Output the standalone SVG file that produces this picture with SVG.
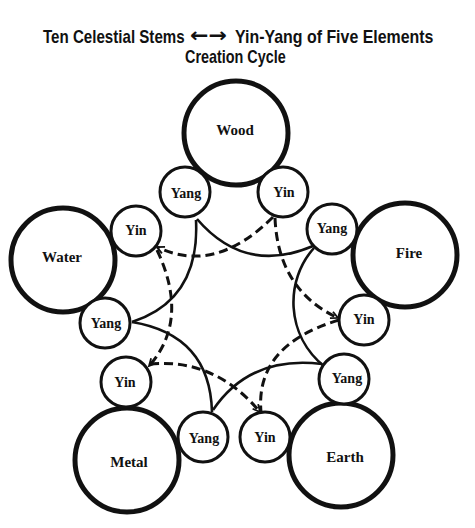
<svg xmlns="http://www.w3.org/2000/svg" width="475" height="528" viewBox="0 0 475 528">
<style>
.title{font-family:"Liberation Sans",Arial,sans-serif;font-weight:bold;font-size:18px;fill:#111}
.arr{font-family:"DejaVu Sans",sans-serif;font-weight:bold;font-size:20px;fill:#111}
.big{fill:#fff;stroke:#111;stroke-width:5}
.small{fill:#fff;stroke:#111;stroke-width:3}
.bl{font-family:"Liberation Serif","Times New Roman",serif;font-weight:bold;font-size:15px;fill:#111;text-anchor:middle}
.sl{font-family:"Liberation Serif","Times New Roman",serif;font-weight:bold;font-size:14px;fill:#111;text-anchor:middle}
.solid{fill:none;stroke:#111;stroke-width:2.6}
.dash{fill:none;stroke:#111;stroke-width:3;stroke-dasharray:9 5}
</style>
<defs>
<marker id="ah" viewBox="0 0 10 10" refX="9" refY="5" markerWidth="9" markerHeight="9" markerUnits="userSpaceOnUse" orient="auto">
<path d="M1,1 L9,5 L1,9" fill="none" stroke="#111" stroke-width="2"/>
</marker>
</defs>
<rect width="475" height="528" fill="#fff"/>
<g id="title">
<text class="title" transform="translate(43 43) scale(0.84 1)">Ten Celestial Stems</text>
<text class="arr" transform="translate(190 42) scale(1.1 1)">←→</text>
<text class="title" transform="translate(235 43) scale(0.885 1)">Yin-Yang of Five Elements</text>
<text class="title" transform="translate(185 63) scale(0.8 1)">Creation Cycle</text>
</g>
<g id="connectors">
<path class="solid" d="M197,219 Q245,275 313,246"/>
<path class="solid" d="M196,220 Q200,300 132,322"/>
<path class="solid" d="M132,322 Q210,335 212,412"/>
<path class="solid" d="M213,410 Q250,355 322,364"/>
<path class="solid" d="M314,248 C285,280 285,335 325,367"/>
<path class="dash" d="M273,217 Q215,275 157,247" marker-end="url(#ah)"/>
<path class="dash" d="M275,218 Q278,290 338,318" marker-end="url(#ah)"/>
<path class="dash" d="M157,250 Q190,320 149,366" marker-end="url(#ah)"/>
<path class="dash" d="M150,364 Q215,358 260,412" marker-end="url(#ah)"/>
<path class="dash" d="M339,320 Q255,345 261,412"/>
</g>
<g id="wood"><circle class="big" cx="236" cy="133" r="52"/><text class="bl" x="235" y="135">Wood</text></g>
<g id="wood-yang"><circle class="small" cx="185" cy="192" r="25"/><text class="sl" x="186" y="198">Yang</text></g>
<g id="wood-yin"><circle class="small" cx="283" cy="192" r="25"/><text class="sl" x="284" y="197">Yin</text></g>
<g id="water"><circle class="big" cx="63" cy="260" r="52"/><text class="bl" x="62" y="262">Water</text></g>
<g id="water-yin"><circle class="small" cx="136" cy="231" r="25"/><text class="sl" x="136" y="235">Yin</text></g>
<g id="water-yang"><circle class="small" cx="105" cy="323" r="25"/><text class="sl" x="106" y="328">Yang</text></g>
<g id="fire"><circle class="big" cx="405" cy="255" r="52"/><text class="bl" x="409" y="258">Fire</text></g>
<g id="fire-yang"><circle class="small" cx="332" cy="229" r="25"/><text class="sl" x="332" y="233">Yang</text></g>
<g id="fire-yin"><circle class="small" cx="364" cy="320" r="25"/><text class="sl" x="364" y="324">Yin</text></g>
<g id="metal"><circle class="big" cx="127" cy="460" r="52"/><text class="bl" x="129" y="467">Metal</text></g>
<g id="metal-yin"><circle class="small" cx="126" cy="382" r="25"/><text class="sl" x="125" y="387">Yin</text></g>
<g id="metal-yang"><circle class="small" cx="203" cy="437" r="25"/><text class="sl" x="204" y="443">Yang</text></g>
<g id="earth"><circle class="big" cx="341" cy="455" r="52"/><text class="bl" x="345" y="462">Earth</text></g>
<g id="earth-yin"><circle class="small" cx="265" cy="437" r="25"/><text class="sl" x="265" y="442">Yin</text></g>
<g id="earth-yang"><circle class="small" cx="344" cy="379" r="25"/><text class="sl" x="347" y="383">Yang</text></g>
</svg>
